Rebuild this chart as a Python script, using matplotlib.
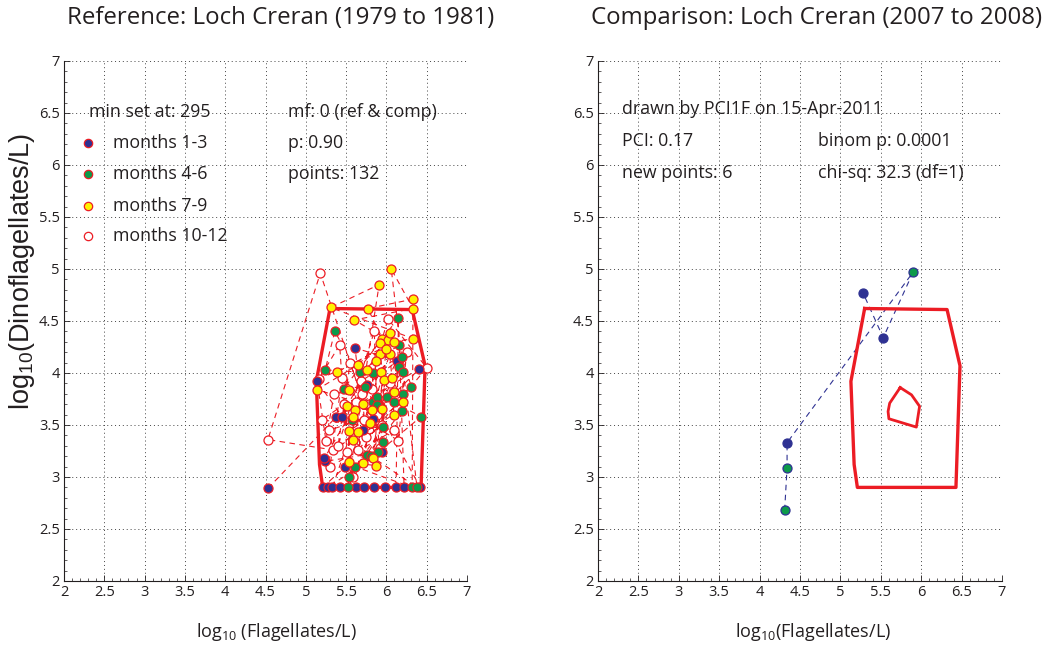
import matplotlib
matplotlib.use("Agg")
import matplotlib.pyplot as plt
from matplotlib.ticker import MultipleLocator, FormatStrFormatter
from matplotlib import font_manager

# ---------------- data ----------------
# reference period (1979-1981): points per season group
blue_x = [4.53, 5.14, 5.61, 5.38, 5.45, 6.13, 6.41, 5.83, 5.71, 5.24, 5.23, 5.49, 5.94, 5.76,
          5.21, 5.27, 5.33, 5.43, 5.62, 5.72, 5.85, 5.98, 6.12, 6.22, 6.42]
blue_y = [2.89, 3.92, 4.24, 3.58, 3.58, 4.12, 4.04, 3.56, 3.45, 3.15, 3.18, 3.10, 3.24, 3.88,
          2.90, 2.90, 2.90, 2.90, 2.90, 2.90, 2.90, 2.90, 2.90, 2.90, 2.90]

green_x = [5.36, 6.15, 6.16, 5.24, 5.47, 5.67, 5.83, 5.73, 5.57, 5.83, 6.19, 6.16, 6.21, 6.31,
           6.01, 6.20, 6.09, 5.88, 6.19, 6.43, 5.88, 5.76, 5.53, 5.96, 5.89, 5.96, 5.61, 5.81,
           5.52, 6.32, 6.38]
green_y = [4.40, 4.53, 4.27, 4.03, 3.85, 4.01, 4.00, 3.87, 3.55, 3.72, 4.15, 4.06, 4.01, 3.87,
           3.77, 3.80, 3.72, 3.77, 3.63, 3.58, 3.69, 3.21, 3.00, 3.34, 3.24, 3.48, 3.10, 3.20,
           2.90, 2.90, 2.90]

yellow_x = [6.06, 5.91, 6.33, 6.33, 5.31, 5.77, 5.60, 6.33, 5.95, 6.02, 6.09, 5.92, 6.05, 5.39,
            5.65, 5.76, 5.54, 5.14, 5.51, 5.61, 5.71, 5.82, 5.59, 5.92, 6.04, 5.93, 5.97, 6.07,
            6.09, 5.95, 6.21, 6.09, 5.53, 5.65, 5.58, 5.54, 5.71, 5.83, 5.87, 5.80, 6.00, 5.87]
yellow_y = [5.00, 4.85, 4.71, 4.62, 4.63, 4.62, 4.51, 4.33, 4.33, 4.32, 4.30, 4.29, 4.38, 4.01,
            4.08, 4.03, 3.84, 3.84, 3.68, 3.64, 3.70, 3.64, 3.58, 4.18, 4.18, 4.01, 3.93, 3.95,
            3.82, 3.65, 3.72, 3.60, 3.44, 3.43, 3.36, 3.14, 3.13, 3.18, 3.11, 3.52, 4.23, 4.12]

red_x = [5.18, 5.16, 6.02, 4.53, 5.42, 6.50, 5.34, 5.51, 5.65, 5.29, 5.70, 5.78, 5.88, 5.62,
         5.45, 5.85, 5.95, 5.30, 5.40, 5.75, 6.10, 5.55, 5.68, 5.20, 5.92, 6.25, 5.48, 5.82,
         6.15, 5.58, 5.35, 5.72, 6.05, 5.25]
red_y = [4.96, 3.94, 4.52, 3.36, 4.27, 4.05, 3.26, 3.24, 3.26, 3.45, 3.80, 3.70, 3.60, 3.72,
         3.95, 4.40, 3.50, 3.10, 3.30, 3.38, 3.45, 4.10, 3.92, 3.55, 3.28, 4.20, 3.70, 3.85,
         3.35, 3.00, 3.80, 3.55, 3.90, 3.35]

# comparison period (2007-2008), in time order
comp_x = [4.31, 4.34, 4.34, 5.90, 5.53, 5.28]
comp_y = [2.68, 3.09, 3.33, 4.97, 4.34, 4.77]
comp_season = ["4-6", "4-6", "1-3", "4-6", "1-3", "1-3"]

# reference envelopes (outer and inner contours)
outer_x = [5.30, 6.32, 6.48, 6.43, 5.21, 5.17, 5.13, 5.30]
outer_y = [4.62, 4.61, 4.07, 2.90, 2.90, 3.12, 3.92, 4.62]
inner_x = [5.74, 5.88, 5.98, 5.94, 5.60, 5.59, 5.61, 5.74]
inner_y = [3.86, 3.79, 3.68, 3.48, 3.56, 3.63, 3.71, 3.86]

ref_title = "Reference: Loch Creran (1979 to 1981)"
comp_title = "Comparison: Loch Creran (2007 to 2008)"
legend_labels = ["months 1-3", "months 4-6", "months 7-9", "months 10-12"]
ref_notes = ["mf: 0 (ref & comp)", "p: 0.90", "points: 132"]
comp_notes_left = ["drawn by PCI1F on 15-Apr-2011", "PCI: 0.17", "new points: 6"]
comp_notes_right = ["binom p: 0.0001", "chi-sq: 32.3 (df=1)"]

# ---------------- style ----------------
names = {f.name for f in font_manager.fontManager.ttflist}
MYR = [n for n in ["Liberation Sans Narrow", "Open Sans", "DejaVu Sans"] if n in names]
HELV = ["Liberation Sans", "DejaVu Sans"]

RED = "#ec1c24"
NAVY = "#2e3192"
GREEN = "#0c9a4a"
YELLOW = "#fff200"
TXT = "#231f20"

fig = plt.figure(figsize=(10.53, 6.49), dpi=100)
W, H = 1053, 649
ax1 = fig.add_axes([64 / W, 1 - 581 / H, 403 / W, 520 / H])
ax2 = fig.add_axes([598 / W, 1 - 581 / H, 404 / W, 520 / H])

for ax in (ax1, ax2):
    ax.set_xlim(2, 7)
    ax.set_ylim(2, 7)
    ax.xaxis.set_major_locator(MultipleLocator(0.5))
    ax.yaxis.set_major_locator(MultipleLocator(0.5))
    ax.xaxis.set_minor_locator(MultipleLocator(0.1))
    ax.yaxis.set_minor_locator(MultipleLocator(0.1))
    ax.xaxis.set_major_formatter(FormatStrFormatter("%g"))
    ax.yaxis.set_major_formatter(FormatStrFormatter("%g"))
    ax.spines["top"].set_visible(False)
    ax.spines["right"].set_visible(False)
    for s in ("left", "bottom"):
        ax.spines[s].set_linewidth(0.8)
        ax.spines[s].set_color(TXT)
    ax.tick_params(which="major", direction="in", length=4, width=0.6, colors=TXT,
                   labelsize=10.5, pad=3)
    ax.tick_params(which="minor", direction="in", length=2, width=0.5, colors=TXT)
    for lab in ax.get_xticklabels() + ax.get_yticklabels():
        lab.set_family(MYR)
    ax.grid(True, which="major", linestyle=(0, (1, 3)), color="#444444", linewidth=0.7)
    ax.set_axisbelow(True)

# ---- reference panel ----
# time order: for each year, winter -> spring -> summer -> autumn
seq_x, seq_y = [], []
for k in range(3):
    for gx, gy in ((blue_x, blue_y), (green_x, green_y), (yellow_x, yellow_y), (red_x, red_y)):
        seq_x += gx[k::3]
        seq_y += gy[k::3]
ax1.plot(seq_x, seq_y, color=RED, lw=0.8, linestyle=(0, (5, 4)), zorder=2)
ax1.plot(outer_x, outer_y, color=RED, lw=2.4, zorder=3, solid_joinstyle="miter")
ax1.plot(inner_x, inner_y, color=RED, lw=2.0, zorder=3)
ms = 6.5
ax1.plot(red_x, red_y, "o", ms=ms, mfc="white", mec=RED, mew=0.9, zorder=4)
ax1.plot(blue_x, blue_y, "o", ms=ms, mfc=NAVY, mec=RED, mew=0.9, zorder=5)
ax1.plot(green_x, green_y, "o", ms=ms, mfc=GREEN, mec=RED, mew=0.9, zorder=5)
ax1.plot(yellow_x, yellow_y, "o", ms=ms, mfc=YELLOW, mec=RED, mew=0.9, zorder=5)

# legend block (drawn in data coords like the original)
fs = 12.8
ax1.text(2.31, 6.51, "min set at: 295", fontsize=fs, family=MYR, color=TXT, va="center")
leg_y = [6.21, 5.91, 5.61, 5.32]
leg_face = [NAVY, GREEN, YELLOW, "white"]
for yy, fc, lab in zip(leg_y, leg_face, legend_labels):
    ax1.plot([2.30], [yy], "o", ms=6, mfc=fc, mec=RED, mew=0.9, zorder=6)
    ax1.text(2.61, yy, lab, fontsize=fs, family=MYR, color=TXT, va="center")
for yy, t in zip([6.51, 6.21, 5.91], ref_notes):
    ax1.text(4.78, yy, t, fontsize=fs, family=MYR, color=TXT, va="center")

# ---- comparison panel ----
ax2.plot(outer_x, outer_y, color=RED, lw=2.4, zorder=3)
ax2.plot(inner_x, inner_y, color=RED, lw=2.0, zorder=3)
ax2.plot(comp_x, comp_y, color=NAVY, lw=0.8, linestyle=(0, (5, 4)), zorder=2)
cmap = {"1-3": NAVY, "4-6": GREEN}
for xx, yy, s in zip(comp_x, comp_y, comp_season):
    ax2.plot([xx], [yy], "o", ms=6.5, mfc=cmap[s], mec=NAVY, mew=0.9, zorder=5)
for yy, t in zip([6.54, 6.23, 5.92], comp_notes_left):
    ax2.text(2.30, yy, t, fontsize=fs, family=MYR, color=TXT, va="center")
for yy, t in zip([6.23, 5.92], comp_notes_right):
    ax2.text(4.72, yy, t, fontsize=fs, family=MYR, color=TXT, va="center")

# titles and labels
fig.text(281 / W, 1 - 18 / H, ref_title, fontsize=17.3, family=MYR, color=TXT, ha="center", va="center")
fig.text(817 / W, 1 - 18 / H, comp_title, fontsize=17.3, family=MYR, color=TXT, ha="center", va="center")
fig.text(22 / W, 1 - 271 / H, r"log$_{\mathregular{10}}$(Dinoflagellates/L)", fontsize=19.5,
         family=HELV, color=TXT, rotation=90, ha="center", va="center")
fig.text(276 / W, 1 - 632 / H, r"log$_{\mathregular{10}}$ (Flagellates/L)", fontsize=13,
         family=MYR, color=TXT, ha="center", va="center")
fig.text(813 / W, 1 - 632 / H, r"log$_{\mathregular{10}}$(Flagellates/L)", fontsize=13,
         family=MYR, color=TXT, ha="center", va="center")

fig.savefig("out.png", dpi=100)
